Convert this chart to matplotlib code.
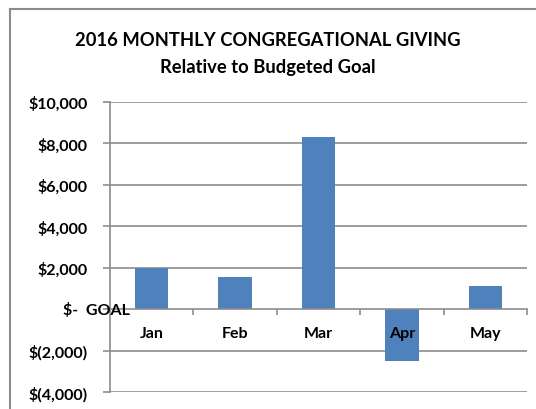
import matplotlib
matplotlib.use('Agg')
import matplotlib.pyplot as plt
from matplotlib.lines import Line2D
from matplotlib.ticker import FixedLocator

months = ['Jan', 'Feb', 'Mar', 'Apr', 'May']
giving = [2000, 1550, 8300, -2500, 1100]
y_ticks = [-4000, -2000, 0, 2000, 4000, 6000, 8000, 10000]
y_labels = ['$(4,000)', '$(2,000)', '', '$2,000', '$4,000', '$6,000', '$8,000', '$10,000']

FONT = 'Lato'
BAR_COLOR = '#4F81BD'
GRID_COLOR = '#8C8C8C'


def main():
    fig = plt.figure(figsize=(5.36, 4.10), dpi=100)
    ax = fig.add_axes([110 / 536, 1 - 393 / 410, 417 / 536, 290 / 410])

    x = list(range(len(months)))
    ax.bar(x, giving, width=0.4, color=BAR_COLOR, zorder=1)

    # gridlines behind the bars
    for t in y_ticks:
        if t != 0:
            ax.axhline(t, color=GRID_COLOR, lw=1.2, zorder=0)

    ax.set_xlim(-0.5, len(months) - 0.5)
    ax.set_ylim(-4000, 10000)

    for s in ['top', 'right']:
        ax.spines[s].set_visible(False)
    ax.spines['left'].set_color(GRID_COLOR)
    ax.spines['left'].set_linewidth(1.2)
    ax.spines['bottom'].set_position(('data', 0))
    ax.spines['bottom'].set_color(GRID_COLOR)
    ax.spines['bottom'].set_linewidth(1.2)

    ax.set_yticks(y_ticks)
    ax.set_yticklabels(y_labels, fontsize=11.5, fontweight='bold', family=FONT)
    ax.tick_params(axis='y', length=5, width=1.2, color=GRID_COLOR, pad=11)

    ax.set_xticks(x)
    ax.set_xticklabels(months, fontsize=11.5, fontweight='bold', family=FONT)
    ax.tick_params(axis='x', which='major', length=0, pad=12)
    ax.xaxis.set_minor_locator(FixedLocator([i + 0.5 for i in x]))
    ax.tick_params(axis='x', which='minor', length=4, width=1.2,
                   color=GRID_COLOR, direction='out')

    ax.text(-0.113, 0, '$-  GOAL', transform=ax.get_yaxis_transform(),
            ha='left', va='center', fontsize=11.5, fontweight='bold',
            family=FONT, zorder=3)

    fig.text(0.5, 1 - 40 / 410, '2016 MONTHLY CONGREGATIONAL GIVING',
             ha='center', va='center', fontsize=13.2, fontweight='bold', family=FONT)
    fig.text(0.5, 1 - 68 / 410, 'Relative to Budgeted Goal',
             ha='center', va='center', fontsize=13.2, fontweight='bold', family=FONT)

    # outer chart frame (left and top edges visible)
    fig.add_artist(Line2D([10 / 536, 10 / 536], [0, 1 - 10 / 410],
                          color=GRID_COLOR, lw=1.5, transform=fig.transFigure))
    fig.add_artist(Line2D([10 / 536, 1], [1 - 10 / 410, 1 - 10 / 410],
                          color=GRID_COLOR, lw=1.5, transform=fig.transFigure))

    fig.savefig('out.png', dpi=100)


if __name__ == '__main__':
    main()
